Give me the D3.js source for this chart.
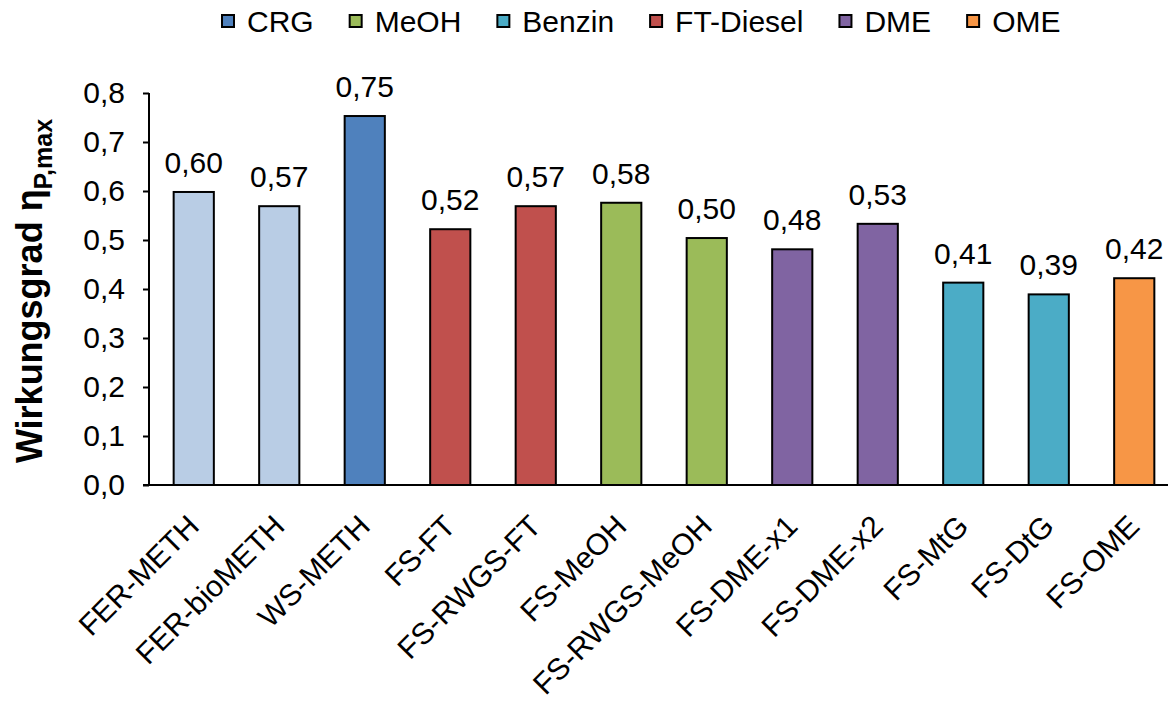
<!DOCTYPE html>
<html>
<head>
<meta charset="utf-8">
<script src="https://cdn.jsdelivr.net/npm/d3@7"></script>
<style>
  html, body { margin: 0; padding: 0; background: #fff; }
  svg { display: block; font-family: "Liberation Sans", Arial, sans-serif; }
</style>
</head>
<body>
<svg id="chart" width="1168" height="704"></svg>
<script>
// ---- Data ----
const categories = ["FER-METH", "FER-bioMETH", "WS-METH", "FS-FT", "FS-RWGS-FT", "FS-MeOH",
  "FS-RWGS-MeOH", "FS-DME-x1", "FS-DME-x2", "FS-MtG", "FS-DtG", "FS-OME"];
const values = [0.598, 0.569, 0.753, 0.522, 0.569, 0.576, 0.504, 0.481, 0.533, 0.413, 0.389, 0.422];
const groups = ["FER", "FER", "CRG", "FT-Diesel", "FT-Diesel", "MeOH", "MeOH", "DME", "DME", "Benzin", "Benzin", "OME"];
const legendItems = ["CRG", "MeOH", "Benzin", "FT-Diesel", "DME", "OME"];
const groupColors = ["#B9CDE5", "#4F81BD", "#9BBB59", "#4BACC6", "#C0504D", "#8064A2", "#F79646"];
const groupNames = ["FER", "CRG", "MeOH", "Benzin", "FT-Diesel", "DME", "OME"];
const yTicks = [0, 0.1, 0.2, 0.3, 0.4, 0.5, 0.6, 0.7, 0.8];
const yTitle = "Wirkungsgrad η";
const yTitleSub = "P,max";

// ---- Setup ----
const svg = d3.select("#chart");
const locale = d3.formatLocale({decimal: ",", thousands: ".", grouping: [3], currency: ["", "€"]});
const fmt1 = locale.format(".1f");
const fmt2 = locale.format(".2f");
const color = d3.scaleOrdinal().domain(groupNames).range(groupColors);

const x0 = 149, yBase = 485;
const x = d3.scaleBand().domain(categories).range([151, 1177]).paddingInner(0.53).paddingOuter(0.265);
const y = d3.scaleLinear().domain([0, 0.8]).range([yBase, 93]);

// Bars
svg.append("g").selectAll("rect").data(categories).join("rect")
  .attr("x", d => x(d))
  .attr("y", (d, i) => y(values[i]))
  .attr("width", x.bandwidth())
  .attr("height", (d, i) => y(0) - y(values[i]))
  .attr("fill", (d, i) => color(groups[i]))
  .attr("stroke", "#000")
  .attr("stroke-width", 2);

// Value labels
svg.append("g").selectAll("text").data(categories).join("text")
  .attr("x", d => x(d) + x.bandwidth() / 2)
  .attr("y", (d, i) => y(values[i]) - 19)
  .attr("text-anchor", "middle")
  .attr("font-size", 30)
  .attr("fill", "#000")
  .text((d, i) => fmt2(values[i]));

// Y axis
const yAxis = d3.axisLeft(y).tickValues(yTicks).tickFormat(fmt1).tickSize(6).tickPadding(18);
const gy = svg.append("g").attr("transform", `translate(${x0},0)`).call(yAxis);
gy.select(".domain").attr("stroke", "#000").attr("stroke-width", 2).attr("d", `M0,${y(0.8)}V${yBase}`);
gy.selectAll(".tick line").attr("stroke", "#000").attr("stroke-width", 2);
gy.selectAll(".tick text").attr("font-size", 30).attr("fill", "#000").attr("font-family", "Liberation Sans, Arial, sans-serif");

// X axis
const xAxis = d3.axisBottom(x).tickSize(0).tickFormat("");
const gx = svg.append("g").attr("transform", `translate(0,${yBase})`).call(xAxis);
gx.select(".domain").attr("stroke", "#000").attr("stroke-width", 2).attr("d", `M${x0 - 6},0H1168`);

// X labels (rotated)
svg.append("g").selectAll("text").data(categories).join("text")
  .attr("transform", d => `translate(${x(d) + x.bandwidth() / 2 + 7},${yBase + 43}) rotate(-45)`)
  .attr("text-anchor", "end")
  .attr("font-size", 30)
  .attr("fill", "#000")
  .text(d => d);

// Y title
const t = svg.append("text")
  .attr("transform", "translate(42,291) rotate(-90)")
  .attr("text-anchor", "middle")
  .attr("font-size", 36)
  .attr("font-weight", "bold")
  .attr("fill", "#000");
t.append("tspan").text(yTitle);
t.append("tspan").attr("font-size", 25).attr("dy", 10).text(yTitleSub);

// Legend
const lg = svg.append("g");
let lx = 222;
legendItems.forEach(name => {
  lg.append("rect").attr("x", lx).attr("y", 15).attr("width", 12).attr("height", 12)
    .attr("fill", color(name)).attr("stroke", "#000").attr("stroke-width", 2);
  const tx = lg.append("text").attr("x", lx + 25).attr("y", 32).attr("font-size", 30).attr("fill", "#000").text(name);
  lx += 25 + tx.node().getComputedTextLength() + 36;
});
</script>
</body>
</html>
